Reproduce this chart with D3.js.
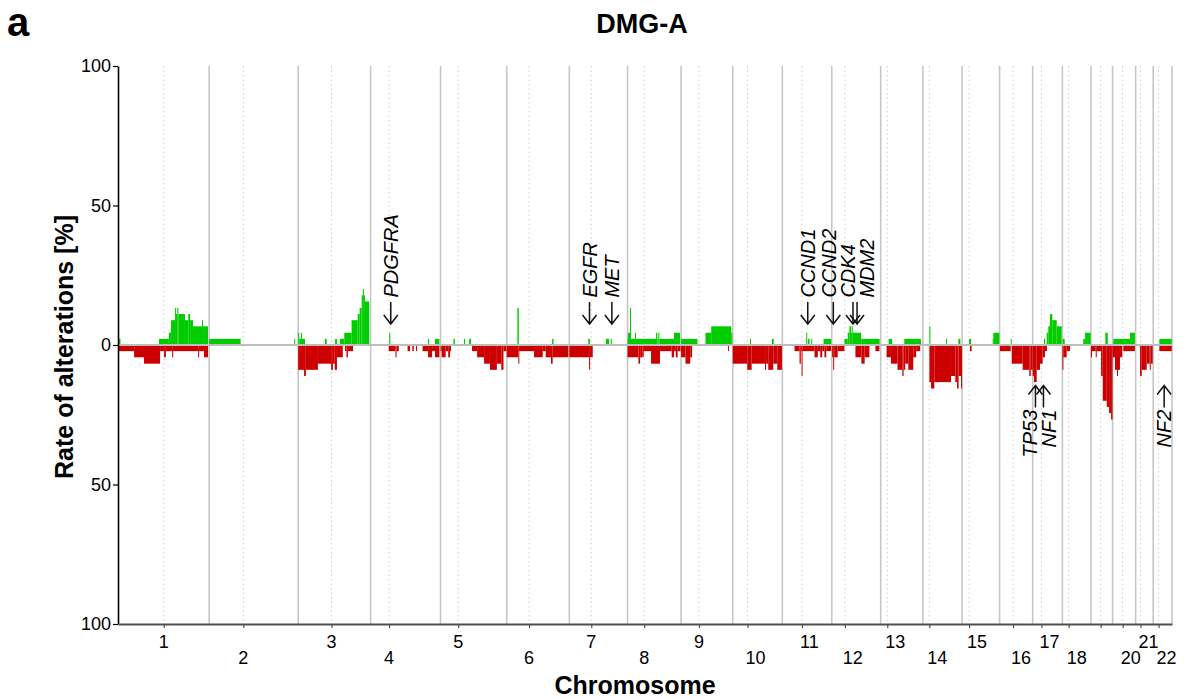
<!DOCTYPE html>
<html>
<head>
<meta charset="utf-8">
<script src="https://cdn.jsdelivr.net/npm/d3@7"></script>
<style>
  body { margin: 0; background: #fff; }
  text { font-family: "Liberation Sans", Arial, Helvetica, sans-serif; }
</style>
</head>
<body>
<script>

// chromosome sizes and centromeres (hg19, Mb)
var chromosomes = ['1','2','3','4','5','6','7','8','9','10','11','12','13','14','15','16','17','18','19','20','21','22'];
var chrLengths = [249.25,243.2,198.0,191.15,180.9,171.1,159.1,146.4,141.2,135.5,135.0,133.85,115.2,107.35,102.5,90.35,81.2,78.1,59.1,63.0,48.1,51.3];
var centromeres = [125.0,93.3,91.0,50.4,48.4,61.0,59.9,45.6,49.0,40.2,53.7,35.8,17.9,17.6,19.0,36.6,24.0,17.2,26.5,27.5,13.2,14.7];
var chrTickLabels = ['1','2','3','4','5','6','7','8','9','10','11','12','13','14','15','16','17','18','','20','21','22'];

var yTickValues = [100, 50, 0, -50, -100];

// [chromosome, start Mb, end Mb, % of samples]
var gains = [
  [1,2.7,6.8,2.2],[1,112,139,2.2],[1,139,145,4.4],[1,145,156,8.9],[1,156,157.5,13.3],[1,157.5,162,11.1],
  [1,162,165,13.3],[1,165,183,11.1],[1,183,192,8.9],[1,192,197,11.1],[1,197,205,8.9],[1,205,229.6,6.7],
  [1,229.6,232.4,8.9],[1,232.4,246,6.7],
  [2,0,86,2.2],[2,232.4,234.5,2.2],
  [3,0,3,4.4],[3,3,7.7,2.2],[3,7.7,10.4,4.4],[3,10.4,18.6,2.2],[3,73,78,2.2],[3,101,106,2.2],[3,114,126,2.2],
  [3,126,146,4.4],[3,146,162.6,8.9],[3,162.6,168,11.1],[3,168,173.5,13.3],[3,173.5,177,17.8],[3,177,179,20],
  [3,179,182.5,17.8],[3,182.5,194.3,15.6],
  [4,51,54,4.4],[4,157,160,2.2],[4,176,188,2.2],
  [5,35,39,2.2],[5,64,67,2.2],[5,78,83,2.2],
  [6,29,33,13.3],[6,124,128,2.2],
  [7,52,56.6,2.2],[7,100,108.5,2.2],[7,113,116,2.2],
  [8,0,1.4,2.2],[8,1.4,6.8,4.4],[8,6.8,8.7,13.3],[8,8.7,20.5,2.2],[8,20.5,23.2,4.4],[8,23.2,78,2.2],[8,78,81.4,4.4],
  [8,81.4,84,2.2],[8,84,87,4.4],[8,87,127,2.2],[8,127,143.5,4.4],
  [9,0,44.8,2.2],[9,66.7,82.3,4.4],[9,82.3,137,6.7],[9,137,140,4.4],
  [10,47,50,2.2],[10,107,112,2.2],
  [11,65.3,68,4.4],[11,69.7,74.3,2.2],[11,79,81.7,2.2],[11,112.6,133.6,2.2],
  [12,34.7,43.7,2.2],[12,43.7,48.4,4.4],[12,48.4,53,6.7],[12,53,54.7,4.4],[12,54.7,57.4,6.7],[12,57.4,80.4,4.4],[12,80.4,131,2.2],
  [13,21.6,31,2.2],[13,64.5,110,2.2],
  [14,17.8,20.5,6.7],[14,63.4,66,2.2],[14,97,102.5,2.2],
  [15,19,24.3,2.2],[15,83.6,85.3,2.2],[15,85.3,101.7,4.4],
  [16,30.3,33,2.2],
  [17,31,34.4,2.2],[17,38.3,42.6,4.4],[17,42.6,47.3,6.7],[17,47.3,53.6,11.1],[17,53.6,65.6,8.9],[17,65.6,79.3,6.7],
  [18,0.8,6.3,2.2],[18,57,62,2.2],[18,62,77.3,4.4],
  [19,39.4,46,4.4],
  [20,2,47.6,2.2],[20,47.6,61,4.4],
  [22,16.7,50.6,2.2]
];

var losses = [
  [1,0,44,2.2],[1,44,71,4.4],[1,71,115,6.7],[1,115,126,2.2],[1,126,131,4.4],[1,131,148,2.2],[1,148,150,4.4],
  [1,150,219,2.2],[1,219,221,4.4],[1,221,235,2.2],[1,235,246,4.4],
  [3,0,16,8.9],[3,16,21,11.1],[3,21,54,8.9],[3,54,90,6.7],[3,90,95,8.9],[3,95,100,6.7],[3,100,106,8.9],
  [3,106,122,4.4],[3,128,132,2.2],[3,132,136,4.4],[3,136,150,2.2],
  [4,49.5,68,2.2],[4,68,71,4.4],[4,71,77,2.2],[4,101,108,2.2],[4,114,118,2.2],[4,124,127,2.2],[4,142,157,2.2],
  [4,157,168,4.4],[4,168,176,2.2],[4,176,188,4.4],
  [5,0,3,2.2],[5,3,14,4.4],[5,14,21,2.2],[5,21,26,4.4],[5,26,28,2.2],[5,86,100,2.2],[5,100,119,4.4],[5,119,135,6.7],
  [5,135,154,8.9],[5,154,166,6.7],[5,166,172,8.9],[5,172,180,2.2],
  [6,0,31.7,4.4],[6,31.7,33.6,6.7],[6,33.6,74.6,2.2],[6,74.6,98.4,4.4],[6,98.4,106.6,2.2],[6,106.6,121,4.4],
  [6,121,125.5,6.7],[6,125.5,168.4,4.4],
  [7,0,54,4.4],[7,54,56.6,8.9],[7,56.6,64,4.4],
  [8,0,29.8,4.4],[8,29.8,34.4,6.7],[8,34.4,41.5,4.4],[8,41.5,43,4.4],[8,43,64.2,2.2],[8,64.2,88.8,6.7],[8,88.8,120.7,2.2],
  [8,120.7,127,4.4],[8,127,132,2.2],[8,132,137,4.4],[8,137,145,2.2],
  [9,0,12,4.4],[9,12,25,6.7],[9,25,30,4.4],[9,128,130,2.2],
  [10,0,39.6,6.7],[10,39.6,51.6,8.9],[10,51.6,88,6.7],[10,88,91,8.9],[10,91,97,6.7],[10,97,110.7,8.9],
  [10,110.7,121.6,6.7],[10,121.6,134.5,8.9],
  [11,33.3,47,2.2],[11,47,50.5,6.7],[11,50.5,52.5,2.2],[11,52.5,55,11.1],[11,55,88,2.2],[11,88,97,4.4],[11,97,103.6,2.2],
  [11,103.6,109,4.4],[11,109,115,2.2],[11,115,120,4.4],[11,120,133.6,2.2],
  [12,1,4,4.4],[12,4,6.5,8.9],[12,6.5,16.3,4.4],[12,16.3,34.7,2.2],[12,64.8,81,4.4],[12,81,90,6.7],[12,90,103,4.4],
  [12,119.4,130.4,2.2],
  [13,16,28,4.4],[13,28,46,6.7],[13,46,59,8.9],[13,59,62.6,11.1],[13,62.6,67,8.9],[13,67,75.4,6.7],[13,75.4,89,8.9],
  [13,89,97,4.4],[13,97,108,2.2],
  [14,17.8,22.4,13.3],[14,22.4,31.4,15.6],[14,31.4,77,13.3],[14,77,88.8,11.1],[14,88.8,93.5,13.3],[14,93.5,97.8,15.6],
  [14,97.8,104.4,11.1],[14,104.4,107,15.6],
  [15,21.6,26,2.2],
  [16,1,30.3,2.2],[16,33,63,6.7],[16,63,81,8.9],[16,81,85,11.1],[16,85,90.3,8.9],
  [17,0,3.5,11.1],[17,3.5,11,13.3],[17,11,20,8.9],[17,20,27.3,6.7],[17,27.3,33.6,4.4],[17,33.6,39,2.2],
  [18,0,2.5,8.9],[18,2.5,11.7,4.4],[18,11.7,20.8,2.2],
  [19,0,2.2,4.4],[19,2.2,13,2.2],[19,13,15,4.4],[19,15,27.6,2.2],[19,27.6,32.2,11.1],[19,32.2,43.2,20],
  [19,43.2,49.5,22.2],[19,49.5,55,24.4],[19,55,59,26.7],
  [20,0,6.6,4.4],[20,6.6,12,8.9],[20,12,14.8,11.1],[20,14.8,20.2,8.9],[20,20.2,26.5,4.4],[20,29.2,61,2.2],
  [21,12,16.7,11.1],[21,16.7,30.3,8.9],[21,30.3,38.5,6.7],[21,38.5,41.3,8.9],[21,41.3,46.7,6.7],
  [22,16.7,50.6,2.2]
];

// [gene, chromosome, position Mb, side]
var genes = [
  ['PDGFRA',4,55.1,'gain'],['EGFR',7,55.1,'gain'],['MET',7,116.3,'gain'],
  ['CCND1',11,69.5,'gain'],['CCND2',12,4.3,'gain'],['CDK4',12,58.1,'gain'],['MDM2',12,69.2,'gain'],
  ['TP53',17,7.6,'loss'],['NF1',17,29.5,'loss'],['NF2',22,29.9,'loss']
];

var svgWidth = 1185, svgHeight = 699;
var margin = {top: 66, left: 118, bottom: 75, right: 13};
var width = svgWidth - margin.left - margin.right,
    height = svgHeight - margin.top - margin.bottom;

var green = '#00cc00', red = '#cc0000';

// cumulative offsets
var offsets = [];
var total = 0;
chrLengths.forEach(function(l) { offsets.push(total); total += l; });

function gpos(chr, mb) { return offsets[chr - 1] + mb; }

var xScale = d3.scaleLinear().domain([0, total]).range([0, width]);
var yScale = d3.scaleLinear().domain([-100, 100]).range([height, 0]);

var svg = d3.select('body').append('svg')
  .attr('width', svgWidth)
  .attr('height', svgHeight);

var g = svg.append('g')
  .attr('transform', `translate(${margin.left},${margin.top})`);

// chromosome borders
var borders = offsets.slice(1).concat([total]);
g.selectAll('.border').data(borders).enter().append('line')
  .attr('class', 'border')
  .attr('x1', d => xScale(d)).attr('x2', d => xScale(d))
  .attr('y1', 0).attr('y2', height)
  .attr('stroke', '#c6c6c6')
  .attr('stroke-width', 1.6);

// centromeres
g.selectAll('.cen').data(centromeres).enter().append('line')
  .attr('class', 'cen')
  .attr('x1', (d, i) => xScale(gpos(i + 1, d))).attr('x2', (d, i) => xScale(gpos(i + 1, d)))
  .attr('y1', 0).attr('y2', height)
  .attr('stroke', '#cfcfcf')
  .attr('stroke-width', 1)
  .attr('stroke-dasharray', '1.5,3');

// gains
g.selectAll('.gain').data(gains).enter().append('rect')
  .attr('class', 'gain')
  .attr('x', d => xScale(gpos(d[0], d[1])))
  .attr('width', d => Math.max(1, xScale(gpos(d[0], d[2])) - xScale(gpos(d[0], d[1]))))
  .attr('y', d => yScale(d[3]))
  .attr('height', d => yScale(0) - yScale(d[3]))
  .attr('fill', green);

// losses
g.selectAll('.loss').data(losses).enter().append('rect')
  .attr('class', 'loss')
  .attr('x', d => xScale(gpos(d[0], d[1])))
  .attr('width', d => Math.max(1, xScale(gpos(d[0], d[2])) - xScale(gpos(d[0], d[1]))))
  .attr('y', yScale(0))
  .attr('height', d => yScale(-d[3]) - yScale(0))
  .attr('fill', red);

// zero line
g.append('line')
  .attr('x1', 0).attr('x2', width)
  .attr('y1', yScale(0)).attr('y2', yScale(0))
  .attr('stroke', '#bdbdbd')
  .attr('stroke-width', 2.2);

// y axis
var yAxis = d3.axisLeft(yScale)
  .tickValues(yTickValues)
  .tickFormat(d => Math.abs(d))
  .tickSize(5)
  .tickSizeOuter(0);

var ya = g.append('g').call(yAxis);
ya.select('.domain').attr('stroke', '#000').attr('stroke-width', 1.6);
ya.selectAll('.tick line').attr('stroke', '#000').attr('stroke-width', 1.2);
ya.selectAll('.tick text')
  .attr('font-size', 18)
  .attr('font-family', '"Liberation Sans", Arial, sans-serif')
  .attr('fill', '#000')
  .attr('x', -7);

// x axis with ticks at centromeres
var cenPos = centromeres.map((d, i) => gpos(i + 1, d));
var xAxis = d3.axisBottom(xScale)
  .tickValues(cenPos)
  .tickFormat('')
  .tickSize(4)
  .tickSizeOuter(0);

var xa = g.append('g')
  .attr('transform', `translate(0,${height})`)
  .call(xAxis);
xa.select('.domain').attr('stroke', '#505050').attr('stroke-width', 2);
xa.selectAll('.tick line').attr('stroke', '#505050').attr('stroke-width', 1.2);

g.selectAll('.chrlab').data(chrTickLabels).enter().append('text')
  .attr('class', 'chrlab')
  .attr('x', (d, i) => xScale(cenPos[i]) + (d.length > 1 ? -2 : 0))
  .attr('y', (d, i) => height + ((i % 2 == 0) ? 24 : 40))
  .attr('text-anchor', d => d.length > 1 ? 'start' : 'middle')
  .attr('font-size', 18)
  .text(d => d);

// gene annotations; spread labels that sit too close
function spread(list, minGap) {
  list.sort((a, b) => a.x - b.x);
  list.forEach(d => d.lx = d.x);
  for (var it = 0; it < 200; it++) {
    for (var i = 1; i < list.length; i++) {
      var gap = list[i].lx - list[i - 1].lx;
      if (gap < minGap) {
        var push = (minGap - gap) / 2;
        list[i - 1].lx -= push;
        list[i].lx += push;
      }
    }
  }
  return list;
}

var geneObjs = genes.map(d => ({name: d[0], side: d[3], x: xScale(gpos(d[1], d[2]))}));
var topGenes = spread(geneObjs.filter(d => d.side == 'gain'), 19);
var botGenes = spread(geneObjs.filter(d => d.side == 'loss'), 19);

var arrowTop = yScale(7.5), labelTop = yScale(17);
var arrowBot = yScale(-14.5), labelBot = yScale(-23.2);
var arrowLen = 22, headW = 7, headH = 9;

var ann = g.append('g').attr('font-size', 20).attr('font-style', 'italic');

// arrows pointing at the gene locus (down for gains, up for losses)
function arrowPath(x, tip, dir) {
  // dir = 1: points down, -1: points up
  var tail = tip - dir * arrowLen;
  return `M${x},${tail}L${x},${tip}M${x - headW},${tip - dir * headH}L${x},${tip}L${x + headW},${tip - dir * headH}`;
}

ann.selectAll('.arrT').data(topGenes).enter().append('path')
  .attr('d', d => arrowPath(d.x, arrowTop, 1))
  .attr('fill', 'none')
  .attr('stroke', '#111')
  .attr('stroke-width', 1.5);

ann.selectAll('.labT').data(topGenes).enter().append('text')
  .attr('transform', d => `translate(${d.lx},${labelTop}) rotate(-90)`)
  .attr('dy', '0.36em')
  .text(d => d.name);

ann.selectAll('.arrB').data(botGenes).enter().append('path')
  .attr('d', d => arrowPath(d.x, arrowBot, -1))
  .attr('fill', 'none')
  .attr('stroke', '#111')
  .attr('stroke-width', 1.5);

ann.selectAll('.labB').data(botGenes).enter().append('text')
  .attr('transform', d => `translate(${d.lx},${labelBot}) rotate(-90)`)
  .attr('dy', '0.36em')
  .attr('text-anchor', 'end')
  .text(d => d.name);

// titles
svg.append('text')
  .attr('x', 642).attr('y', 33)
  .attr('text-anchor', 'middle')
  .attr('font-size', 27).attr('font-weight', 'bold')
  .text('DMG-A');

svg.append('text')
  .attr('x', 7).attr('y', 36)
  .attr('font-size', 40).attr('font-weight', 'bold')
  .text('a');

svg.append('text')
  .attr('transform', 'translate(73,347) rotate(-90)')
  .attr('text-anchor', 'middle')
  .attr('font-size', 25).attr('font-weight', 'bold')
  .text('Rate of alterations [%]');

svg.append('text')
  .attr('x', 635).attr('y', 694)
  .attr('text-anchor', 'middle')
  .attr('font-size', 25).attr('font-weight', 'bold')
  .text('Chromosome');

</script>
</body>
</html>
